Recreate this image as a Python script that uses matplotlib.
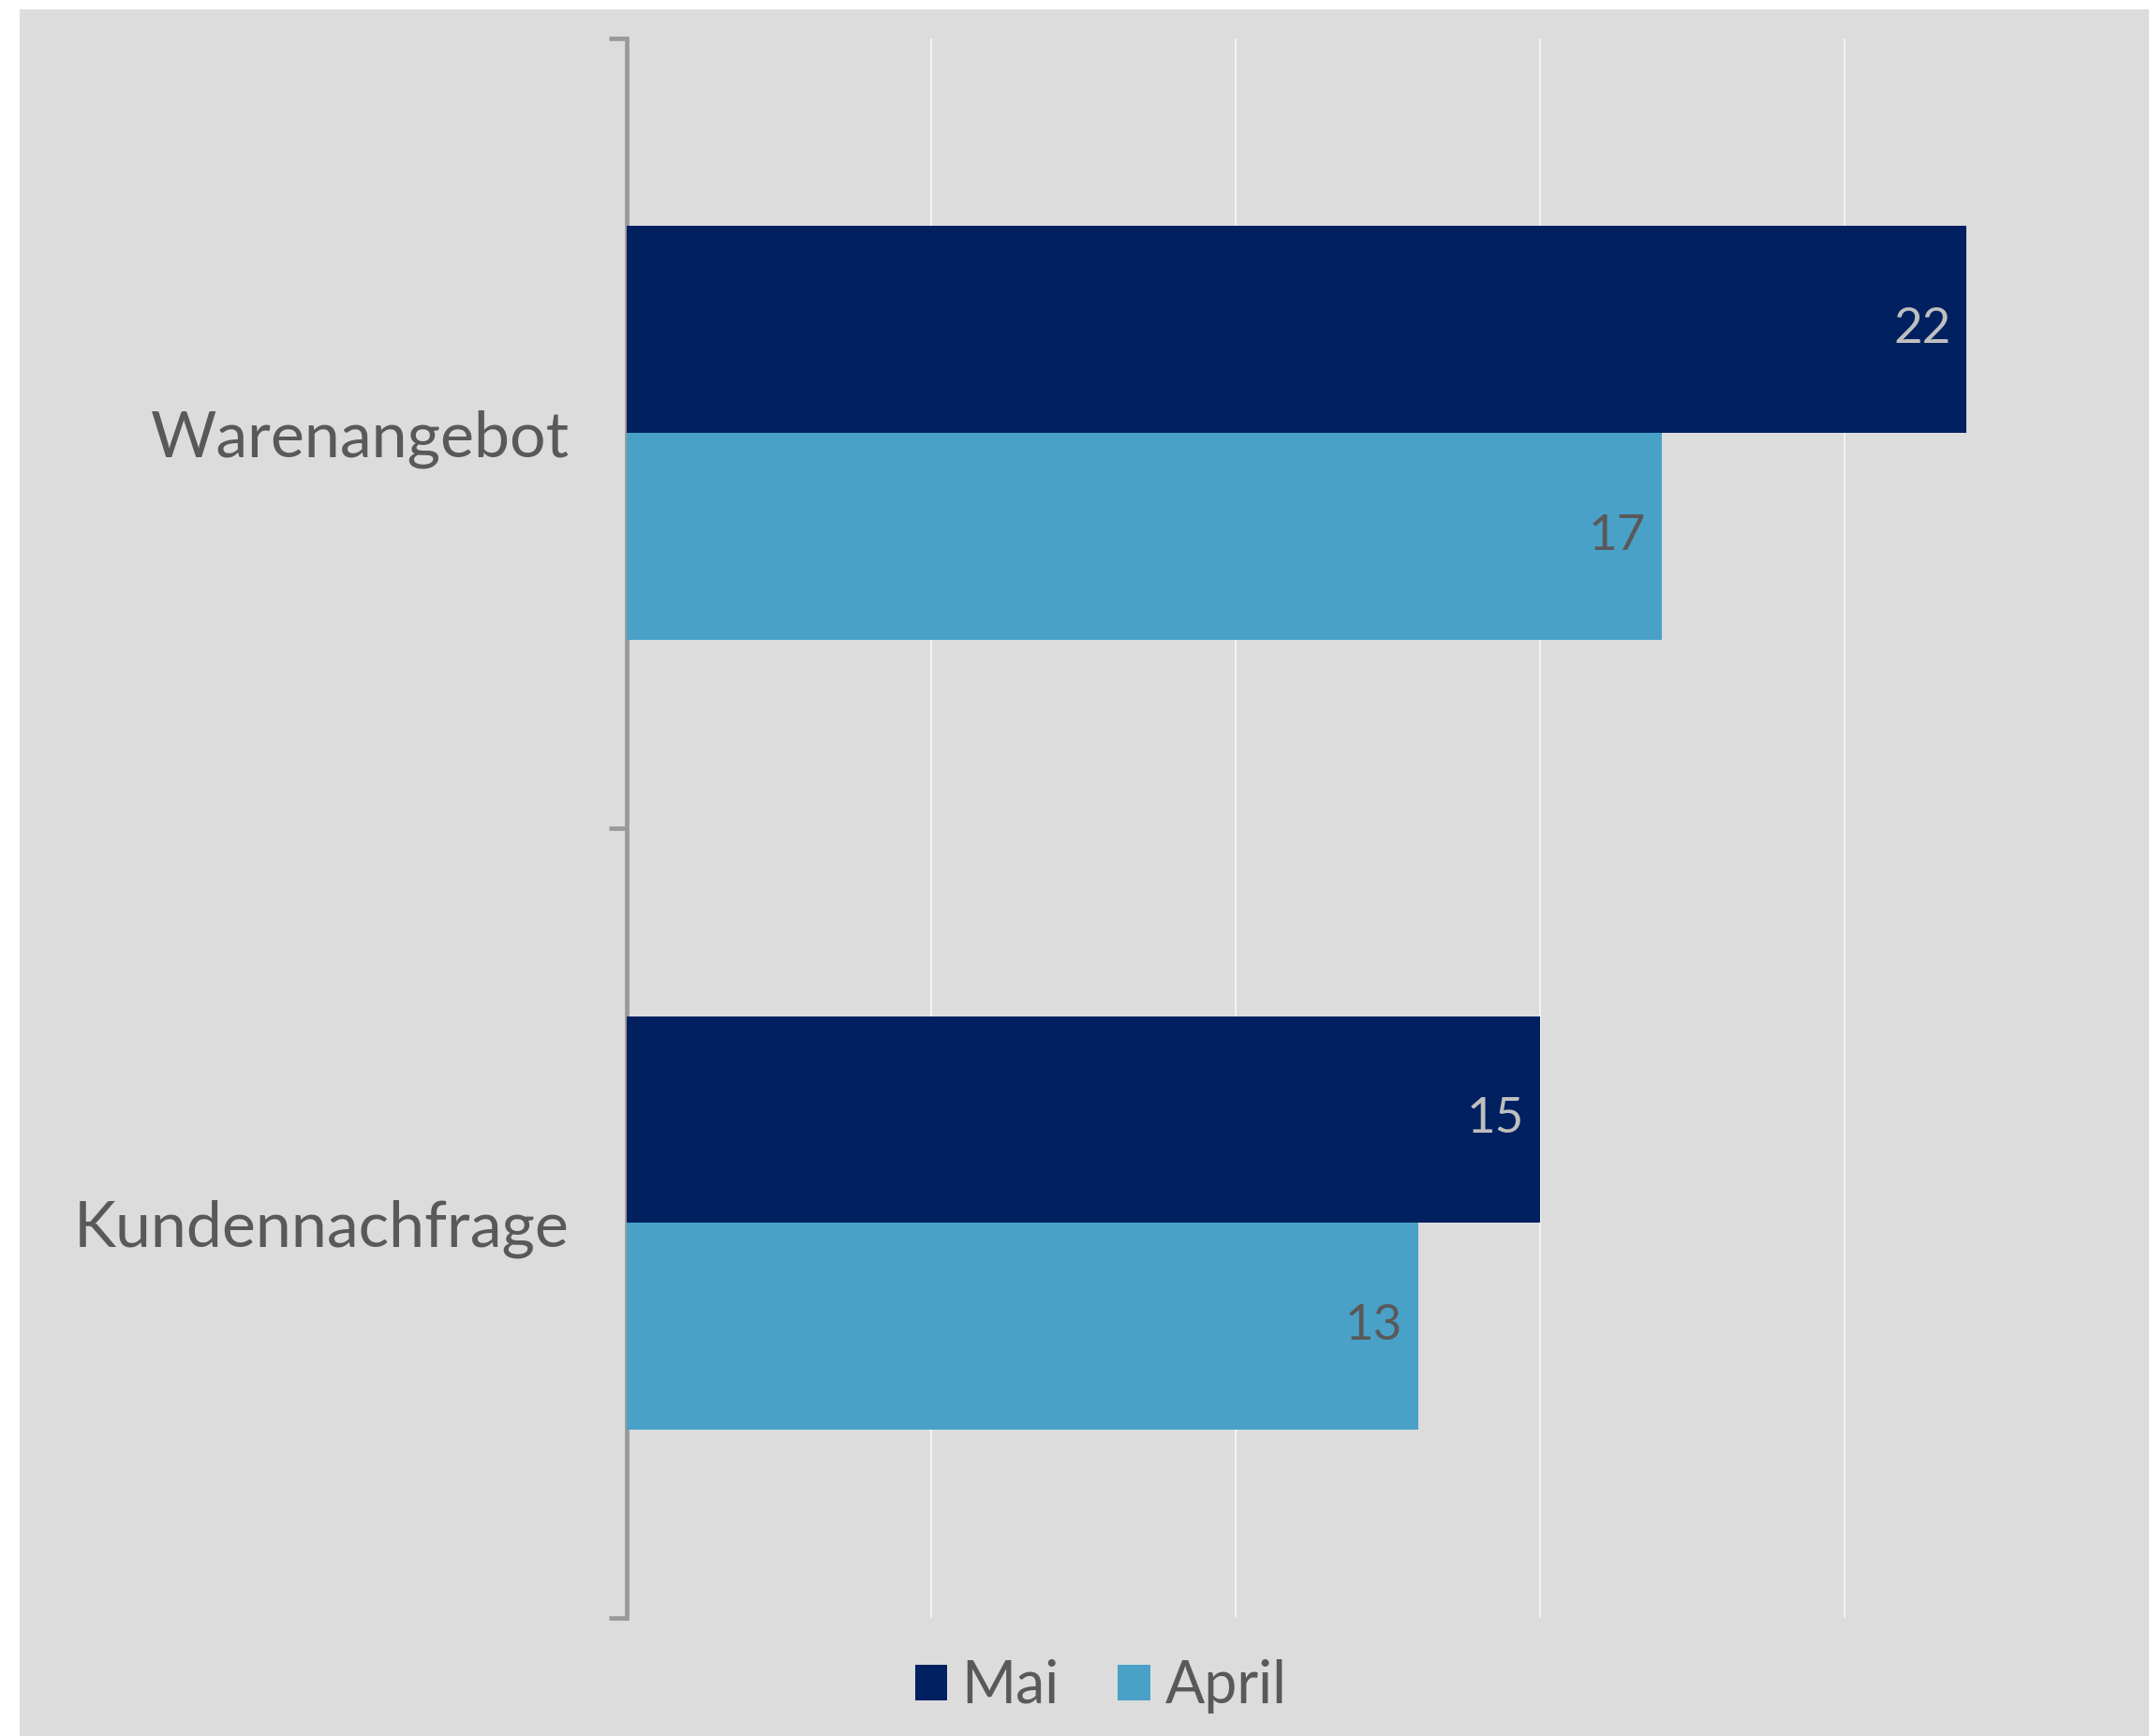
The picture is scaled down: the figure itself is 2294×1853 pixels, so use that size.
import matplotlib
matplotlib.use('Agg')
import matplotlib.pyplot as plt
import matplotlib.patches as mpatches
import numpy as np

# Daten
categories = ['Kundennachfrage', 'Warenangebot']
mai = [15, 22]
april = [13, 17]
series_names = ['Mai', 'April']

col_mai = '#002060'
col_april = '#4AA1C8'
bg = '#DCDCDC'
txt = '#595959'

plt.rcParams['font.family'] = ['Lato', 'DejaVu Sans']

fig = plt.figure(figsize=(22.94, 18.53), dpi=100)
fig.patch.set_facecolor('white')
# grauer Hintergrund
fig.patches.append(mpatches.Rectangle((21 / 2294, 0), 1, 1 - 10 / 1853,
                                      transform=fig.transFigure,
                                      facecolor=bg, edgecolor='none', zorder=-10))

ax = fig.add_axes([0.2916, 0.068, 1 - 0.2916, 0.978 - 0.068])
ax.set_facecolor('none')

y = np.arange(len(categories))
h = 0.262
b1 = ax.barh(y + h / 2, mai, height=h, color=col_mai, zorder=3, label=series_names[0])
b2 = ax.barh(y - h / 2, april, height=h, color=col_april, zorder=3, label=series_names[1])

ax.bar_label(b1, labels=[str(v) for v in mai], padding=-12, fontsize=38,
             color='#BFBFBF', zorder=4)
ax.bar_label(b2, labels=[str(v) for v in april], padding=-12, fontsize=38,
             color=txt, zorder=4)
for t in ax.texts:
    t.set_horizontalalignment('right')

ax.set_xlim(0, 25)
ax.set_ylim(-0.5, 1.5)
ax.set_xticks([5, 10, 15, 20])
ax.xaxis.grid(True, color='#F2F2F2', linewidth=1.5, zorder=0)
ax.tick_params(axis='x', length=0, labelbottom=False)

ax.set_yticks([-0.5, 0.5, 1.5])
ax.set_yticklabels([])
ax.set_yticks(y, minor=True)
ax.set_yticklabels(categories, minor=True, fontsize=49, color=txt)
ax.tick_params(axis='y', which='major', length=14, width=3.4, color='#999999')
ax.tick_params(axis='y', which='minor', length=0, pad=44)

for s in ['top', 'right', 'bottom']:
    ax.spines[s].set_visible(False)
ax.spines['left'].set_color('#999999')
ax.spines['left'].set_linewidth(3.4)
ax.spines['left'].set_capstyle('projecting')

leg = fig.legend(handles=[b1, b2], loc='center', bbox_to_anchor=(1175 / 2294, 1 - 1800 / 1853),
                 ncol=2, frameon=False, fontsize=45, handlelength=0.55, handleheight=0.55,
                 handletextpad=0.25, columnspacing=1.0, labelcolor=txt)

fig.savefig('out.png', dpi=100)
